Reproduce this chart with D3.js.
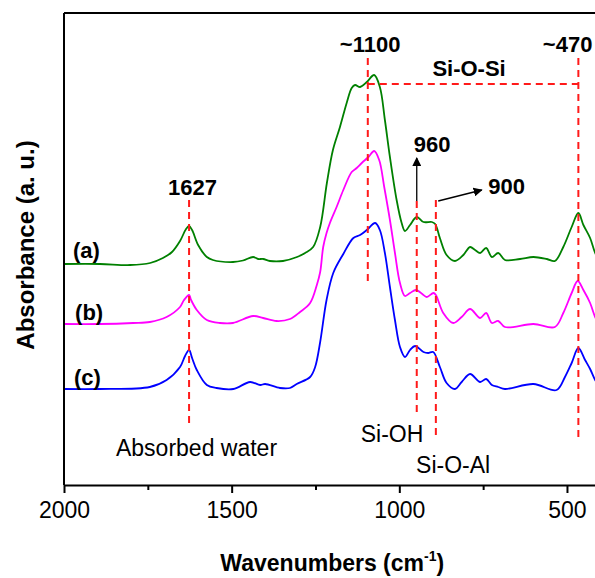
<!DOCTYPE html>
<html>
<head>
<meta charset="utf-8">
<script src="https://cdn.jsdelivr.net/npm/d3@7"></script>
<style>
	body { margin: 0; background: white; }
	text { font-family: "Liberation Sans", Arial, sans-serif; }
</style>
</head>
<body>
<script>

//spectra: [wavenumber (cm-1), absorbance (a. u.)]
var spectrum_a = [
	[2000,2.21],[1893,2.21],[1803,2.20],[1743,2.22],[1705,2.27],[1678,2.33],[1654,2.44],[1636,2.56],
	[1627,2.59],[1618,2.55],[1600,2.40],[1574,2.28],[1556,2.25],[1496,2.23],[1466,2.245],[1436,2.28],
	[1421,2.26],[1406,2.26],[1386,2.24],[1347,2.24],[1305,2.28],[1281,2.32],[1257,2.38],[1236,2.58],
	[1216,3.02],[1198,3.35],[1177,3.58],[1157,3.82],[1142,3.97],[1132,4.00],[1117,3.98],[1097,4.03],
	[1075,4.10],[1058,3.98],[1043,3.65],[1028,3.28],[1008,2.85],[993,2.62],[983,2.54],[968,2.60],
	[948,2.68],[928,2.63],[903,2.63],[893,2.61],[879,2.47],[859,2.30],[834,2.24],[809,2.30],
	[789,2.38],[774,2.35],[759,2.32],[741,2.37],[724,2.28],[705,2.32],[685,2.25],[640,2.26],
	[600,2.28],[560,2.26],[536,2.24],[511,2.38],[486,2.58],[466,2.72],[451,2.60],[431,2.47],
	[416,2.32],[401,2.23]
];

var spectrum_b = [
	[2000,1.61],[1893,1.61],[1794,1.62],[1744,1.63],[1694,1.68],[1654,1.78],[1642,1.85],[1627,1.90],
	[1621,1.85],[1604,1.75],[1574,1.65],[1535,1.62],[1496,1.62],[1436,1.69],[1406,1.67],[1366,1.64],
	[1326,1.66],[1296,1.73],[1266,1.82],[1246,2.00],[1236,2.13],[1227,2.38],[1217,2.52],[1207,2.62],
	[1187,2.78],[1167,2.95],[1142,3.13],[1127,3.17],[1112,3.22],[1092,3.28],[1075,3.34],[1060,3.25],
	[1045,2.98],[1028,2.65],[1013,2.32],[998,2.02],[983,1.89],[968,1.92],[950,1.95],[928,1.90],
	[918,1.88],[898,1.92],[891,1.90],[869,1.72],[839,1.62],[814,1.68],[789,1.76],[759,1.67],
	[741,1.72],[724,1.62],[705,1.64],[685,1.58],[600,1.61],[536,1.58],[511,1.72],[486,1.92],
	[468,2.04],[451,1.95],[431,1.82],[416,1.68],[401,1.60]
];

var spectrum_c = [
	[2000,0.96],[1893,0.96],[1744,0.98],[1694,1.05],[1654,1.18],[1639,1.29],[1627,1.35],[1618,1.27],
	[1604,1.15],[1574,1.00],[1545,0.97],[1495,0.96],[1445,1.03],[1415,1.00],[1400,1.01],[1356,0.97],
	[1326,0.97],[1306,1.01],[1266,1.08],[1251,1.18],[1236,1.43],[1217,1.85],[1197,2.12],[1167,2.31],
	[1137,2.47],[1117,2.50],[1097,2.55],[1072,2.62],[1058,2.55],[1043,2.32],[1028,1.98],[1013,1.65],
	[998,1.38],[983,1.28],[968,1.35],[953,1.39],[928,1.33],[914,1.32],[899,1.33],[879,1.18],
	[859,1.02],[834,0.96],[814,1.03],[789,1.11],[759,1.03],[741,1.06],[724,1.00],[705,0.98],
	[685,0.96],[600,1.01],[531,0.95],[506,1.08],[486,1.22],[466,1.37],[446,1.25],[431,1.16],
	[416,1.05],[401,0.97]
];

var series_names = ["(a)","(b)","(c)"];
var series_colors = ["#008000","#ff00ff","#0000ff"];

//axis ticks
var major_ticks = [2000,1500,1000,500];
var minor_ticks = [1750,1250,750];

//red dashed guides: [wavenumber, from, to]
var guide_lines = [[1627,2.85,0.58],[1094,4.27,2.02],[466,4.27,0.45],[948,2.84,0.73],[891,2.85,0.45]];
var sio_si_bar = [1094,466,4.01];

//arrows: [w1, v1, w2, v2]
var arrows = [[948,2.84,948,3.27],[884,2.84,754,2.95]];

//labels: [text, wavenumber, absorbance, anchor, bold]
var labels = [
	["1627",1617,2.90,"middle",true],
	["~1100",1087,4.33,"middle",true],
	["Si-O-Si",792,4.09,"middle",true],
	["~470",498,4.33,"middle",true],
	["960",902,3.33,"middle",true],
	["900",680,2.91,"middle",true],
	["(a)",1973,2.27,"start",true],
	["(b)",1967,1.65,"start",true],
	["(c)",1970,1.00,"start",true],
	["Absorbed water",1845,0.29,"start",false],
	["Si-OH",1115,0.43,"start",false],
	["Si-O-Al",950,0.12,"start",false]
];

var w = 595, h = 578;
var m_left = 64, m_right = 600.5, m_top = 13, m_bottom = 485;

var svg = d3.select("body").append("svg")
	.attr("width", w)
	.attr("height", h);

var x = d3.scaleLinear().domain([2000,400]).range([m_left,m_right]);
var y = d3.scaleLinear().domain([0,4.72]).range([m_bottom,m_top]);

svg.append("defs").append("marker")
	.attr("id","arrowhead")
	.attr("viewBox","0 0 10 10")
	.attr("refX",9)
	.attr("refY",5)
	.attr("markerWidth",9)
	.attr("markerHeight",9)
	.attr("markerUnits","userSpaceOnUse")
	.attr("orient","auto")
	.append("path")
	.attr("d","M0,0 L10,5 L0,10 Z")
	.attr("fill","black");

//spectra
var line = d3.line()
	.x(function(d){ return x(d[0]); })
	.y(function(d){ return y(d[1]); })
	.curve(d3.curveCatmullRom.alpha(0.5));

[spectrum_a, spectrum_b, spectrum_c].forEach(function(s,i){
	svg.append("path")
		.attr("d", line(s))
		.attr("fill","none")
		.attr("stroke", series_colors[i])
		.attr("stroke-width",1.8);
});

//red dashed guides
guide_lines.forEach(function(g){
	svg.append("line")
		.attr("x1", x(g[0])).attr("x2", x(g[0]))
		.attr("y1", y(g[1])).attr("y2", y(g[2]))
		.attr("stroke","#ff1a1a")
		.attr("stroke-width",2)
		.attr("stroke-dasharray","7,5");
});

svg.append("line")
	.attr("x1", x(sio_si_bar[0])).attr("x2", x(sio_si_bar[1]))
	.attr("y1", y(sio_si_bar[2])).attr("y2", y(sio_si_bar[2]))
	.attr("stroke","#ff1a1a")
	.attr("stroke-width",2)
	.attr("stroke-dasharray","7,5");

arrows.forEach(function(a){
	svg.append("line")
		.attr("x1", x(a[0])).attr("y1", y(a[1]))
		.attr("x2", x(a[2])).attr("y2", y(a[3]))
		.attr("stroke","black")
		.attr("stroke-width",1.3)
		.attr("marker-end","url(#arrowhead)");
});

labels.forEach(function(l){
	svg.append("text")
		.attr("x", x(l[1]))
		.attr("y", y(l[2]))
		.attr("text-anchor", l[3])
		.style("font-size", l[4] ? "22px" : "23px")
		.style("font-weight", l[4] ? "bold" : "normal")
		.text(l[0]);
});

//frame
svg.append("line")
	.attr("x1",m_left).attr("x2",m_left)
	.attr("y1",m_top).attr("y2",m_bottom)
	.attr("stroke","black").attr("stroke-width",2);
svg.append("line")
	.attr("x1",m_left).attr("x2",m_right)
	.attr("y1",m_top).attr("y2",m_top)
	.attr("stroke","black").attr("stroke-width",2);

//x axis
var x_axis = svg.append("g")
	.attr("transform","translate(0," + m_bottom + ")")
	.call(d3.axisBottom(x).tickValues(major_ticks).tickFormat(d3.format("d"))
		.tickSize(8).tickSizeOuter(0).tickPadding(9));

x_axis.select(".domain").attr("stroke-width",2);
x_axis.selectAll(".tick line").attr("stroke-width",2);
x_axis.selectAll("text")
	.style("font-size","23px")
	.style("font-family","'Liberation Sans', Arial, sans-serif")
	.attr("fill","black");

var minor_axis = svg.append("g")
	.attr("transform","translate(0," + m_bottom + ")")
	.call(d3.axisBottom(x).tickValues(minor_ticks).tickSize(5).tickSizeOuter(0).tickFormat(""));
minor_axis.select(".domain").remove();
minor_axis.selectAll(".tick line").attr("stroke-width",2);

//axis titles
var x_title = svg.append("text")
	.attr("x", (m_left + m_right)/2)
	.attr("y", 571)
	.attr("text-anchor","middle")
	.style("font-size","23px")
	.style("font-weight","bold");
x_title.append("tspan").text("Wavenumbers (cm");
x_title.append("tspan").attr("dy",-10).style("font-size","14px").text("-1");
x_title.append("tspan").attr("dy",10).text(")");

svg.append("text")
	.attr("transform","translate(34," + ((m_top + m_bottom)/2 - 4) + ") rotate(-90)")
	.attr("text-anchor","middle")
	.style("font-size","24px")
	.style("font-weight","bold")
	.text("Absorbance (a. u.)");

</script>
</body>
</html>
